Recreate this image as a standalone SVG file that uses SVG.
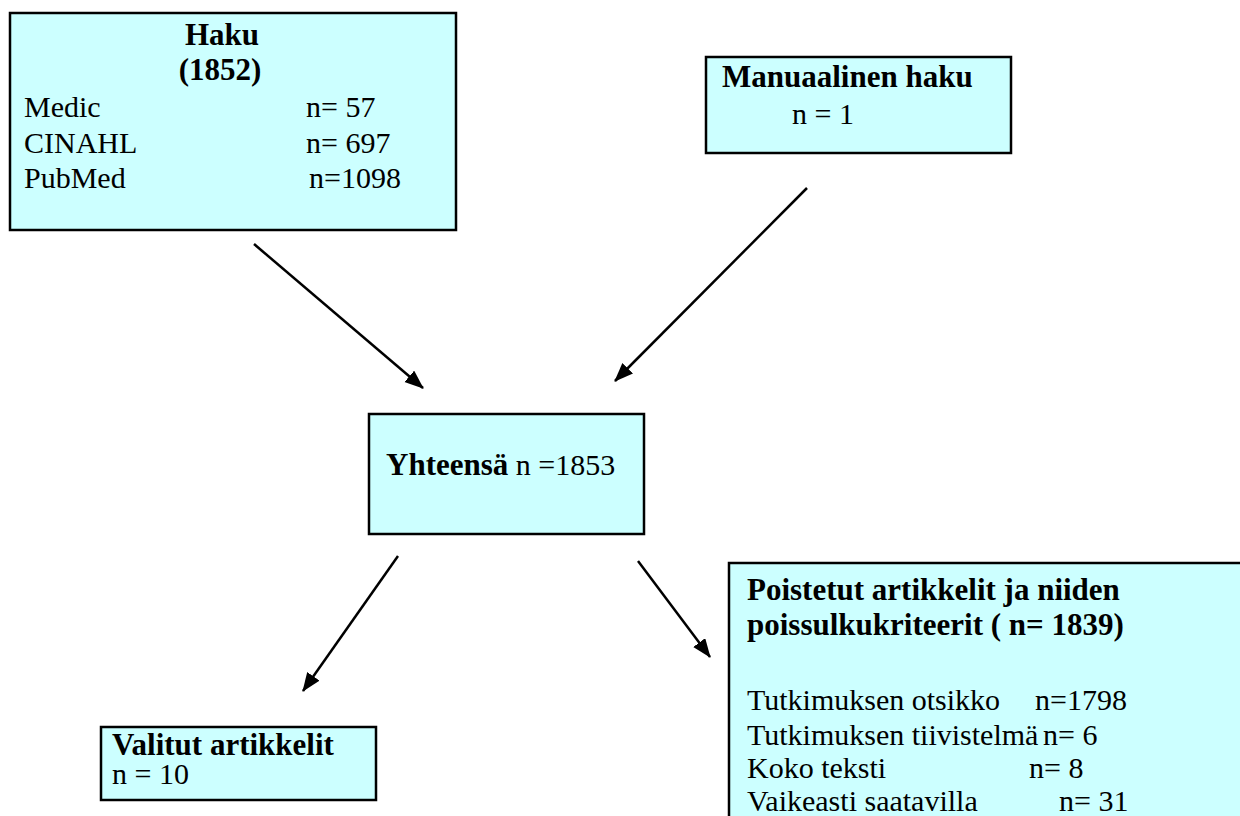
<svg xmlns="http://www.w3.org/2000/svg" width="1240" height="816" viewBox="0 0 1240 816">
<style>
.box{fill:#CCFFFF;stroke:#000;stroke-width:2.5}
.t{font-family:"Liberation Serif","Times New Roman",serif;font-size:30px;fill:#000}
.b{font-weight:bold;font-size:31px}
.c{stroke:#000;stroke-width:2.5;fill:none;marker-end:url(#ah)}
</style>
<defs>
<marker id="ah" markerUnits="userSpaceOnUse" markerWidth="20" markerHeight="16" refX="18" refY="7.5" orient="auto">
<path d="M0,0 L19,7.5 L0,15 z" fill="#000"/>
</marker>
</defs>
<rect width="1240" height="816" fill="#fff"/>
<g id="haku">
<rect class="box" x="10" y="13" width="446" height="217"/>
<text class="t b" x="222" y="45" text-anchor="middle">Haku</text>
<text class="t b" x="220" y="80" text-anchor="middle">(1852)</text>
<text class="t" x="24" y="117">Medic</text>
<text class="t" x="306" y="117">n= 57</text>
<text class="t" x="24" y="153">CINAHL</text>
<text class="t" x="306" y="153">n= 697</text>
<text class="t" x="24" y="188">PubMed</text>
<text class="t" x="309" y="188">n=1098</text>
</g>
<g id="manuaalinen">
<rect class="box" x="706" y="57" width="305" height="96"/>
<text class="t b" x="722" y="87">Manuaalinen haku</text>
<text class="t" x="792" y="124">n = 1</text>
</g>
<g id="yhteensa">
<rect class="box" x="369" y="414" width="275" height="120"/>
<text class="t" x="386" y="475"><tspan class="b">Yhteensä</tspan> n =1853</text>
</g>
<g id="valitut">
<rect class="box" x="101" y="727" width="275" height="73"/>
<text class="t b" x="112" y="755">Valitut artikkelit</text>
<text class="t" x="112" y="784">n = 10</text>
</g>
<g id="poistetut">
<rect x="729" y="563" width="511" height="253" fill="#CCFFFF"/>
<path d="M729,816 V563 H1240" fill="none" stroke="#000" stroke-width="2.5"/>
<text class="t b" x="747" y="600">Poistetut artikkelit ja niiden</text>
<text class="t b" x="747" y="635">poissulkukriteerit ( n= 1839)</text>
<text class="t" x="747" y="710">Tutkimuksen otsikko</text>
<text class="t" x="1035" y="710">n=1798</text>
<text class="t" x="747" y="745">Tutkimuksen tiivistelmä</text>
<text class="t" x="1043" y="745">n= 6</text>
<text class="t" x="747" y="778">Koko teksti</text>
<text class="t" x="1029" y="778">n= 8</text>
<text class="t" x="747" y="811">Vaikeasti saatavilla</text>
<text class="t" x="1059" y="811">n= 31</text>
</g>
<g id="connectors">
<line class="c" x1="254" y1="244" x2="423" y2="388"/>
<line class="c" x1="807" y1="188" x2="615" y2="381"/>
<line class="c" x1="398" y1="556" x2="303" y2="691"/>
<line class="c" x1="638" y1="561" x2="710" y2="657"/>
</g>
</svg>
